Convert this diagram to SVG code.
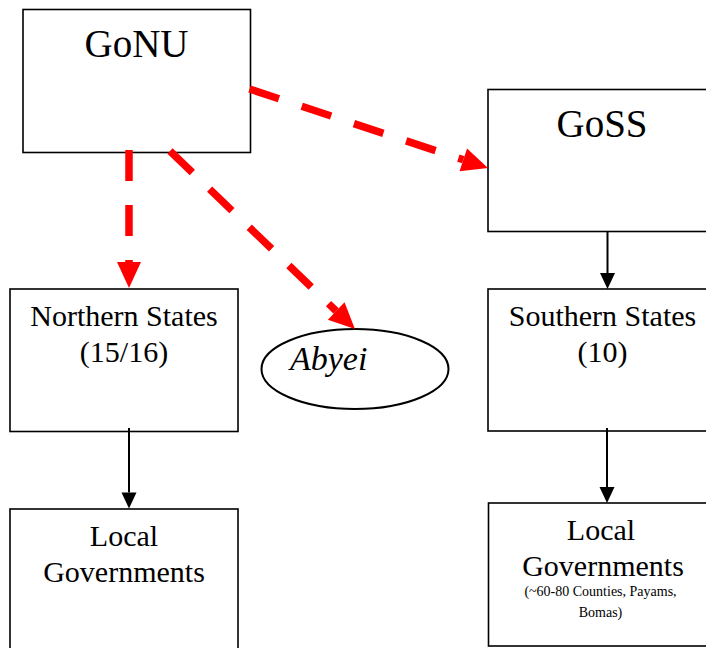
<svg xmlns="http://www.w3.org/2000/svg" width="706" height="648" viewBox="0 0 706 648">
<style>
.box{fill:#fff;stroke:#000;stroke-width:1.6}
.t{font-family:"Liberation Serif","Times New Roman",serif;fill:#000;text-anchor:middle}
.red{stroke:#ff0000;stroke-width:7.5;stroke-dasharray:31 24;fill:none}
.blk{stroke:#000;stroke-width:2;fill:none}
</style>
<defs>
<marker id="ra" markerUnits="userSpaceOnUse" markerWidth="28" markerHeight="26" refX="0" refY="12" orient="auto" overflow="visible">
<path d="M0,0 L26,12 L0,24 z" fill="#ff0000"/>
</marker>
<marker id="ba" markerUnits="userSpaceOnUse" markerWidth="18" markerHeight="16" refX="0" refY="7.5" orient="auto" overflow="visible">
<path d="M0,0 L16,7.5 L0,15 z" fill="#000"/>
</marker>
</defs>
<rect width="706" height="648" fill="#fff"/>
<g id="gonu">
<rect class="box" x="23" y="9.5" width="227.5" height="143"/>
<text class="t" x="136.5" y="57" font-size="39">GoNU</text>
</g>
<g id="goss">
<rect class="box" x="488" y="89.5" width="230" height="142"/>
<text class="t" x="602" y="137" font-size="39">GoSS</text>
</g>
<g id="northern">
<rect class="box" x="10" y="289" width="228" height="142.5"/>
<text class="t" x="124" y="326" font-size="30">Northern States</text>
<text class="t" x="124" y="362" font-size="30">(15/16)</text>
</g>
<g id="abyei">
<ellipse cx="355" cy="369" rx="93.5" ry="40" fill="#fff" stroke="#000" stroke-width="2"/>
<text x="290" y="370" font-family="Liberation Serif, Times New Roman, serif" font-style="italic" font-size="34" fill="#000">Abyei</text>
</g>
<g id="southern">
<rect class="box" x="488" y="289" width="230" height="142"/>
<text class="t" x="602.5" y="326" font-size="30">Southern States</text>
<text class="t" x="602.5" y="362" font-size="30">(10)</text>
</g>
<g id="local-north">
<rect class="box" x="10" y="509" width="228" height="150"/>
<text class="t" x="124" y="546" font-size="30">Local</text>
<text class="t" x="124" y="582" font-size="30">Governments</text>
</g>
<g id="local-south">
<rect class="box" x="488.5" y="503" width="226" height="143"/>
<text class="t" x="601" y="540" font-size="30">Local</text>
<text class="t" x="603" y="575.5" font-size="30">Governments</text>
<text class="t" x="600.5" y="596" font-size="14">(~60-80 Counties, Payams,</text>
<text class="t" x="600.5" y="617" font-size="14">Bomas)</text>
</g>
<g id="connectors">
<line class="red" x1="129" y1="150" x2="129" y2="262" marker-end="url(#ra)"/>
<line class="red" x1="249.5" y1="89" x2="463.3" y2="159.8" marker-end="url(#ra)"/>
<line class="red" x1="170" y1="151" x2="336.2" y2="311" marker-end="url(#ra)"/>
<line class="blk" x1="607.5" y1="231" x2="607.5" y2="273" marker-end="url(#ba)"/>
<line class="blk" x1="129" y1="428" x2="129" y2="492.5" marker-end="url(#ba)"/>
<line class="blk" x1="607" y1="428" x2="607" y2="487" marker-end="url(#ba)"/>
</g>
</svg>
